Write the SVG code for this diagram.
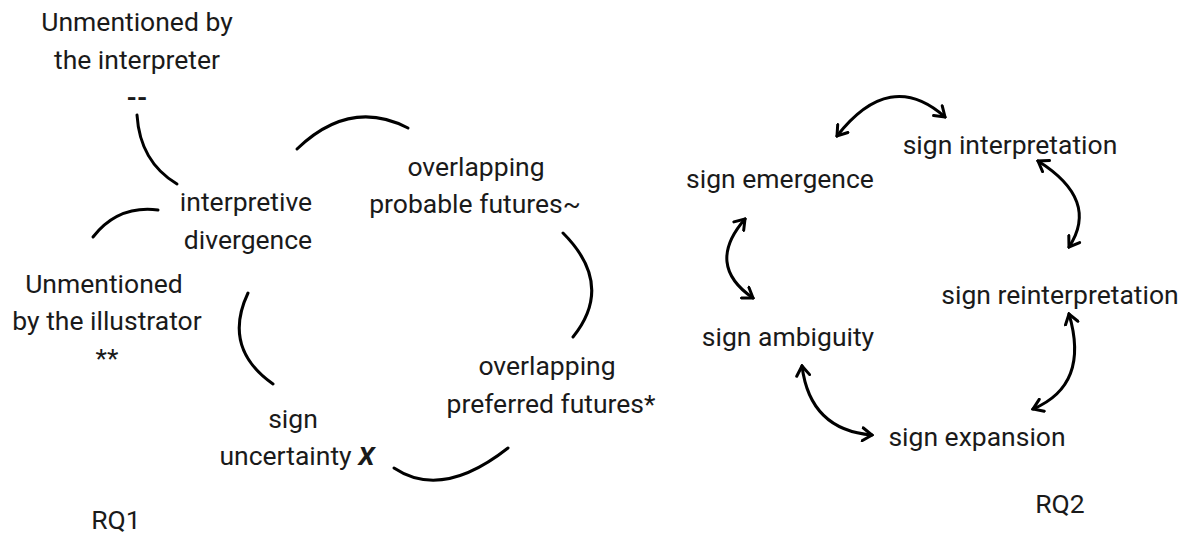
<svg xmlns="http://www.w3.org/2000/svg" width="1195" height="533" viewBox="0 0 1195 533">
<style>
  text { font-family: Roboto, "Liberation Sans", sans-serif; font-size: 26.5px; fill: #1a1a1a; text-anchor: middle; }
  .dash { font-weight: bold; }
  .arc { fill: none; stroke: #000; stroke-width: 3; stroke-linecap: round; }
  .arr { fill: none; stroke: #000; stroke-width: 3; stroke-linecap: round; marker-start: url(#head); marker-end: url(#head); }
</style>
<defs>
  <marker id="head" viewBox="0 0 13 16" refX="11" refY="8" markerWidth="13" markerHeight="16" markerUnits="userSpaceOnUse" orient="auto-start-reverse">
    <path d="M1.5,1.5 L11,8 L1.5,14.5" fill="none" stroke="#000" stroke-width="3" stroke-linecap="round" stroke-linejoin="miter"/>
  </marker>
</defs>
<rect width="1195" height="533" fill="#fff"/>

<g id="unmentioned-interpreter">
  <text x="137" y="31">Unmentioned by</text>
  <text x="137" y="69">the interpreter</text>
  <text class="dash" x="137" y="107">--</text>
</g>
<g id="interpretive-divergence">
  <text x="246" y="211">interpretive</text>
  <text x="248" y="249">divergence</text>
</g>
<g id="unmentioned-illustrator">
  <text x="104" y="293">Unmentioned</text>
  <text x="107" y="330">by the illustrator</text>
  <text x="107" y="367">**</text>
</g>
<g id="overlapping-probable">
  <text x="476" y="176">overlapping</text>
  <text x="475" y="213">probable futures~</text>
</g>
<g id="overlapping-preferred">
  <text x="547" y="375">overlapping</text>
  <text x="551" y="413">preferred futures*</text>
</g>
<g id="sign-uncertainty">
  <text x="293" y="428">sign</text>
  <text x="297" y="465">uncertainty <tspan font-weight="bold" font-style="italic">X</tspan></text>
</g>
<g id="rq1"><text x="116" y="529">RQ1</text></g>

<g id="sign-interpretation"><text x="1010" y="154">sign interpretation</text></g>
<g id="sign-emergence"><text x="780" y="188">sign emergence</text></g>
<g id="sign-reinterpretation"><text x="1060" y="304">sign reinterpretation</text></g>
<g id="sign-ambiguity"><text x="788" y="346">sign ambiguity</text></g>
<g id="sign-expansion"><text x="977" y="446">sign expansion</text></g>
<g id="rq2"><text x="1060" y="513">RQ2</text></g>

<g id="connectors">
  <path class="arc" d="M137,115 Q140,162 177,184"/>
  <path class="arc" d="M93,237 Q118,205 158,210"/>
  <path class="arc" d="M297,149 Q350,98 408,128"/>
  <path class="arc" d="M563,233 Q615,285 573,337"/>
  <path class="arc" d="M248,293 Q222,348 273,384"/>
  <path class="arc" d="M394,468 Q442,500 508,448"/>

  <path class="arr" d="M837,136 Q890,68 945,117"/>
  <path class="arr" d="M1038,161 Q1100,200 1069,247"/>
  <path class="arr" d="M745,219 Q705,265 753,298"/>
  <path class="arr" d="M1069,314 Q1090,385 1033,409"/>
  <path class="arr" d="M802,366 Q810,430 872,435"/>
</g>
</svg>
